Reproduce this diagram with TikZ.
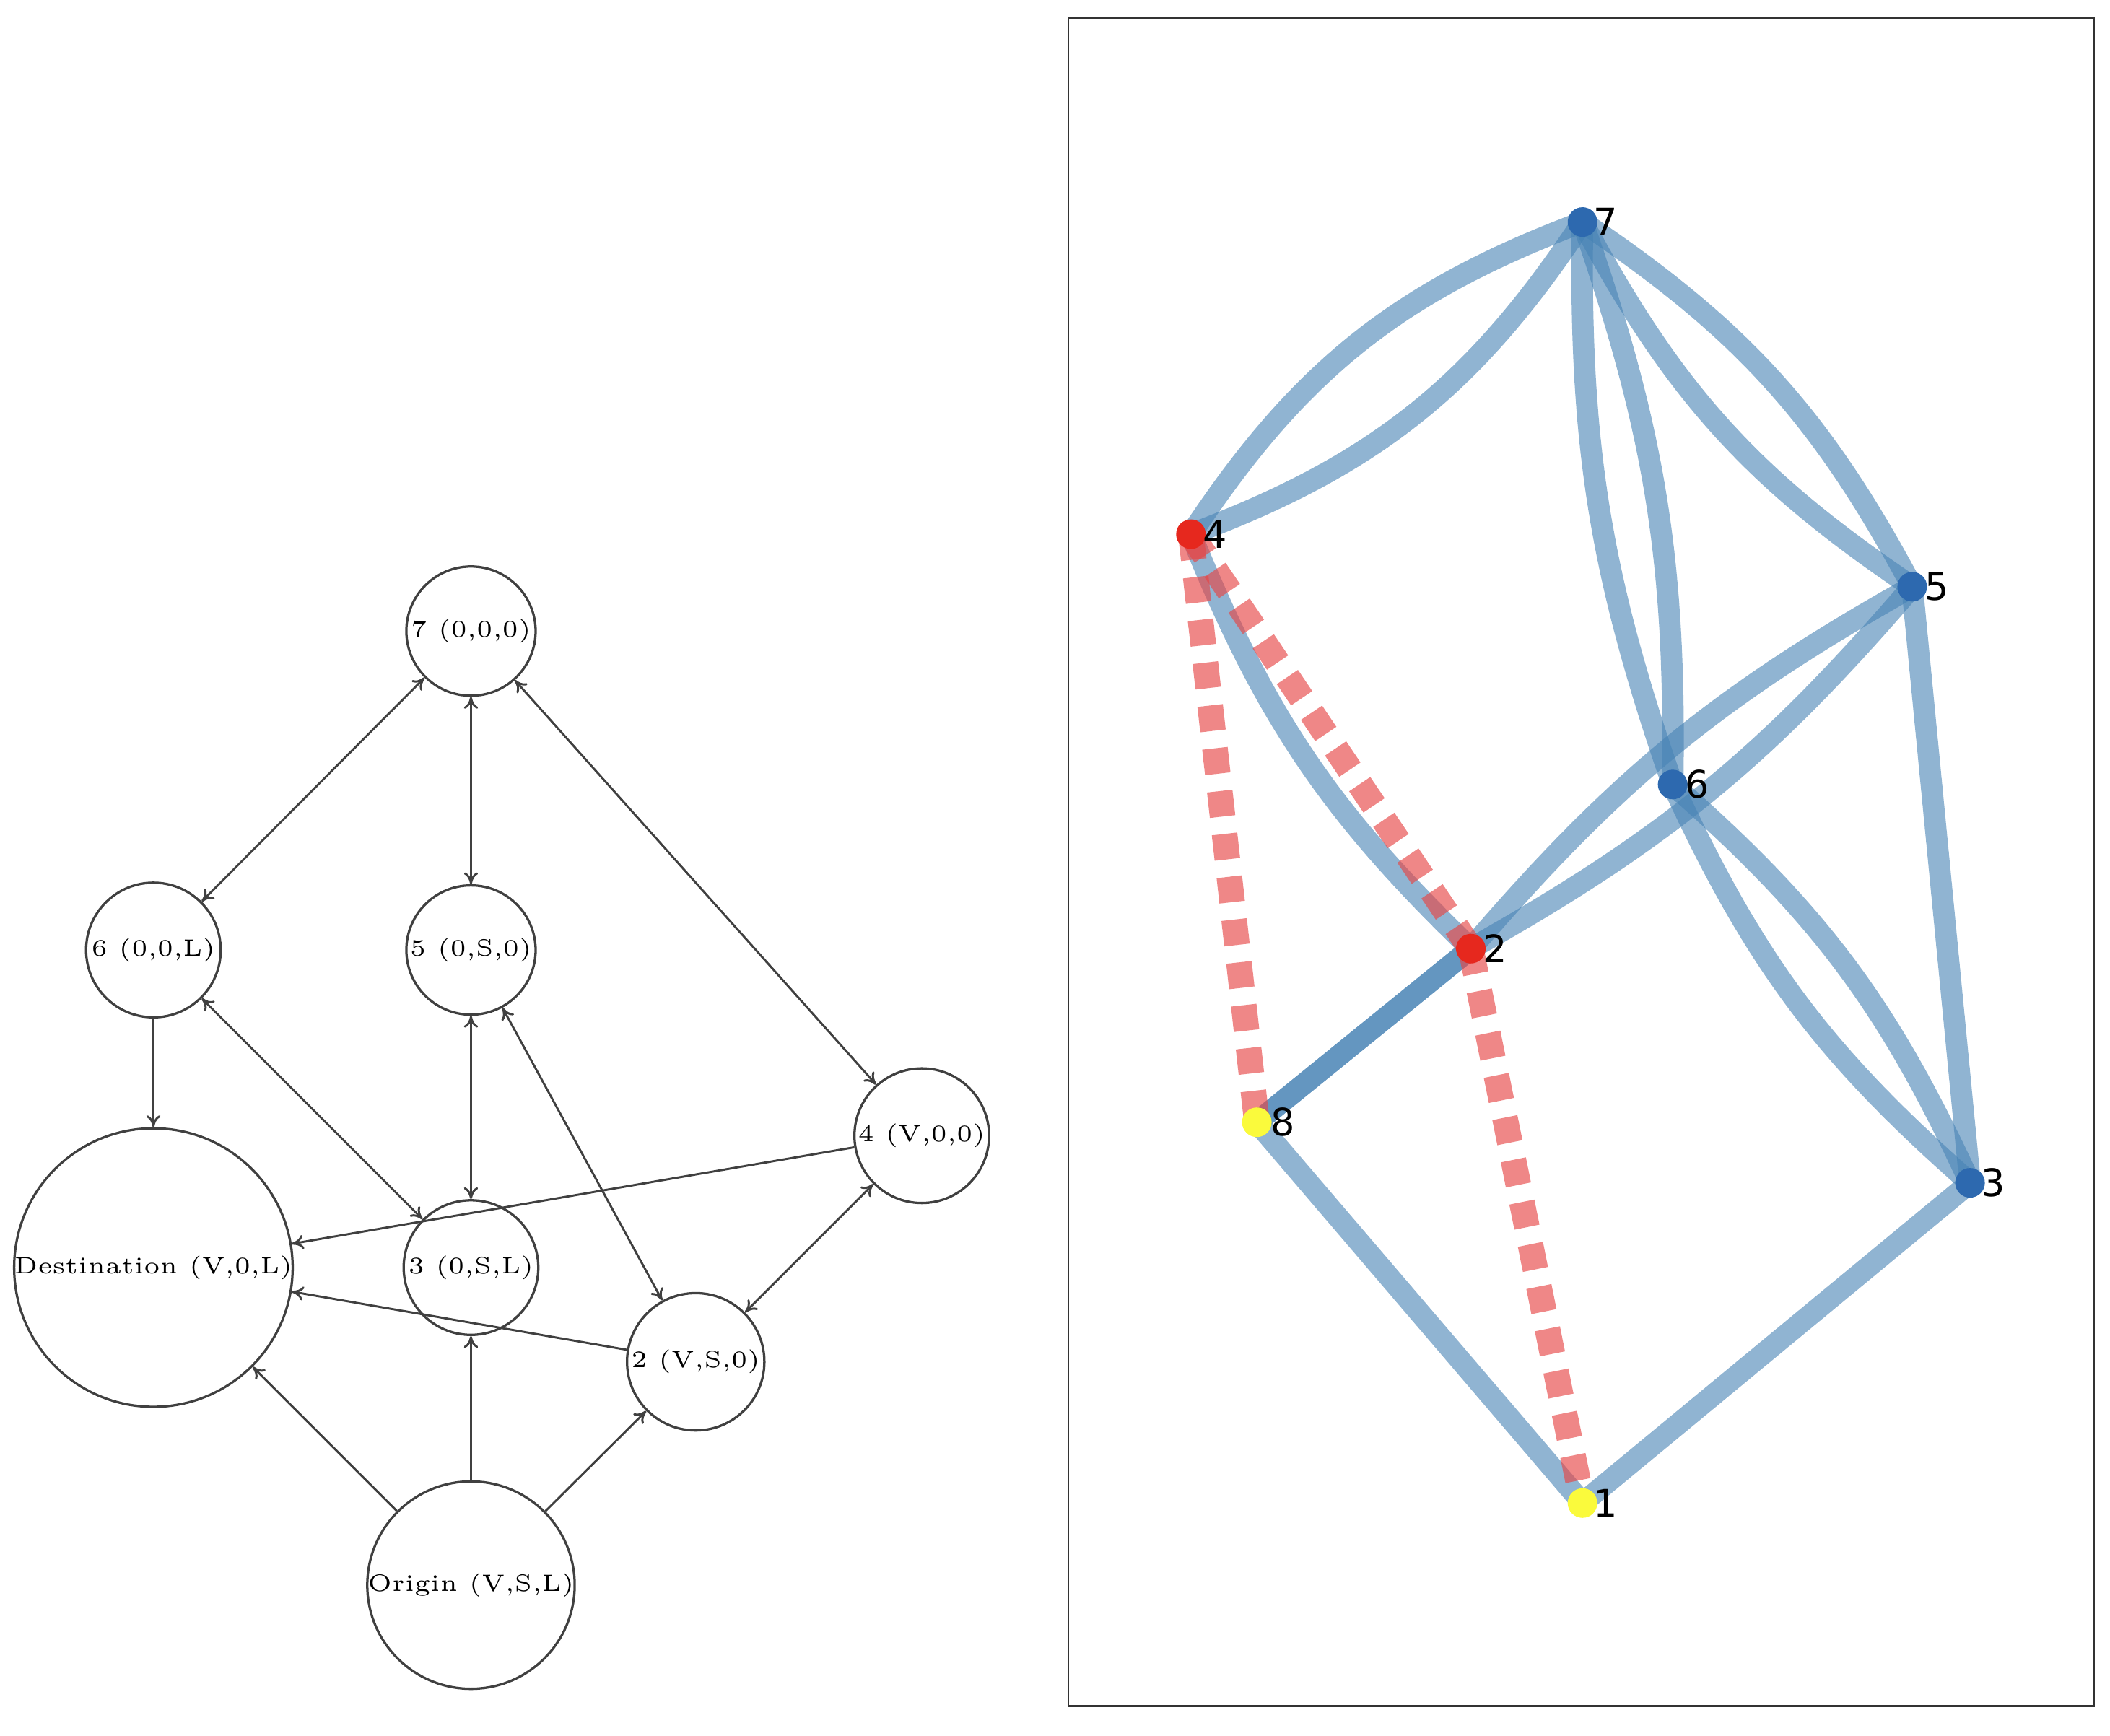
\documentclass[tikz,border=0pt]{standalone}
\usepackage{fontspec}
\newfontfamily\dv{DejaVu Sans}
\usetikzlibrary{arrows.meta}
\begin{document}
\begin{tikzpicture}[x=0.01cm,y=-0.01cm,
 st/.style={circle,draw=black!75,line width=0.5pt,inner sep=0pt,font=\fontsize{5}{6}\selectfont},
 ar/.style={draw=black!75,line width=0.45pt,-{To[length=2.5pt,width=3pt]}},
 ba/.style={draw=black!75,line width=0.45pt,{To[length=2.5pt,width=3pt]}-{To[length=2.5pt,width=3pt]}},
 bl/.style={draw={rgb,255:red,70;green,130;blue,180},opacity=0.6,line width=0.16cm},
 rd/.style={draw={rgb,255:red,230;green,70;blue,70},opacity=0.65,line width=0.19cm,dash pattern=on 0.19cm off 0.13cm},
 dot/.style={circle,inner sep=0pt,minimum size=0.22cm},
 lab/.style={font=\dv\fontsize{8}{9}\selectfont,anchor=west,inner sep=1pt}]
\useasboundingbox (0,0) rectangle (1568,1290);
% left graph
\node[st,minimum size=0.96cm] (n7) at (350,469) {7 (0,0,0)};
\node[st,minimum size=1.0cm] (n6) at (114,706) {6 (0,0,L)};
\node[st,minimum size=0.96cm] (n5) at (350,706) {5 (0,S,0)};
\node[st,minimum size=1.0cm] (n4) at (685,844) {4 (V,0,0)};
\node[st,minimum size=1.95cm] (nd) at (114,942) {Destination (V,0,L)};
\node[st,minimum size=1.0cm] (n3) at (350,942) {3 (0,S,L)};
\node[st,minimum size=1.02cm] (n2) at (517,1012) {2 (V,S,0)};
\node[st,minimum size=1.48cm] (no) at (350,1178) {Origin (V,S,L)};
\draw[ba] (n7) -- (n6);
\draw[ba] (n7) -- (n5);
\draw[ba] (n7) -- (n4);
\draw[ar] (n6) -- (nd);
\draw[ba] (n3) -- (n6);
\draw[ba] (n5) -- (n3);
\draw[ba] (n5) -- (n2);
\draw[ar] (n4) -- (nd);
\draw[ba] (n4) -- (n2);
\draw[ar] (n2) -- (nd);
\draw[ar] (no) -- (nd);
\draw[ar] (no) -- (n3);
\draw[ar] (no) -- (n2);
% right panel
\draw[black!80,line width=0.4pt] (794,13) rectangle (1556,1268);
\coordinate (r7) at (1176,165);
\coordinate (r4) at (885,397);
\coordinate (r5) at (1421,436);
\coordinate (r6) at (1243,583);
\coordinate (r2) at (1093,705);
\coordinate (r8) at (934,834);
\coordinate (r3) at (1464,879);
\coordinate (r1) at (1176,1117);
\draw[bl] (r7) to[bend right=18] (r4);
\draw[bl] (r4) to[bend right=18] (r7);
\draw[bl] (r7) to[bend right=10] (r6);
\draw[bl] (r6) to[bend right=10] (r7);
\draw[bl] (r7) to[bend left=14] (r5);
\draw[bl] (r5) to[bend left=14] (r7);
\draw[bl] (r5) to[bend right=10] (r2);
\draw[bl] (r2) to[bend right=10] (r5);
\draw[bl] (r6) to[bend left=12] (r3);
\draw[bl] (r3) to[bend left=12] (r6);
\draw[bl] (r5) -- (r3);
\draw[bl] (r4) to[bend right=12] (r2);
\draw[bl] (r2) -- (r8);
\draw[bl] (r2) -- (r8);
\draw[bl] (r8) -- (r1);
\draw[bl] (r1) -- (r3);
\draw[rd] (r4) -- (r2);
\draw[rd] (r4) -- (r8);
\draw[rd] (r2) -- (r1);
\node[dot,fill={rgb,255:red,45;green,105;blue,175}] (d7) at (r7) {};
\node[dot,fill={rgb,255:red,45;green,105;blue,175}] (d5) at (r5) {};
\node[dot,fill={rgb,255:red,45;green,105;blue,175}] (d6) at (r6) {};
\node[dot,fill={rgb,255:red,45;green,105;blue,175}] (d3) at (r3) {};
\node[dot,fill={rgb,255:red,230;green,40;blue,30}] (d4) at (r4) {};
\node[dot,fill={rgb,255:red,230;green,40;blue,30}] (d2) at (r2) {};
\node[dot,fill={rgb,255:red,250;green,250;blue,60}] (d8) at (r8) {};
\node[dot,fill={rgb,255:red,250;green,250;blue,60}] (d1) at (r1) {};
\node[lab] at (1180,165) {7};
\node[lab] at (890,397) {4};
\node[lab] at (1426,436) {5};
\node[lab] at (1248,583) {6};
\node[lab] at (1098,705) {2};
\node[lab] at (940,834) {8};
\node[lab] at (1468,879) {3};
\node[lab] at (1180,1117) {1};
\end{tikzpicture}
\end{document}
